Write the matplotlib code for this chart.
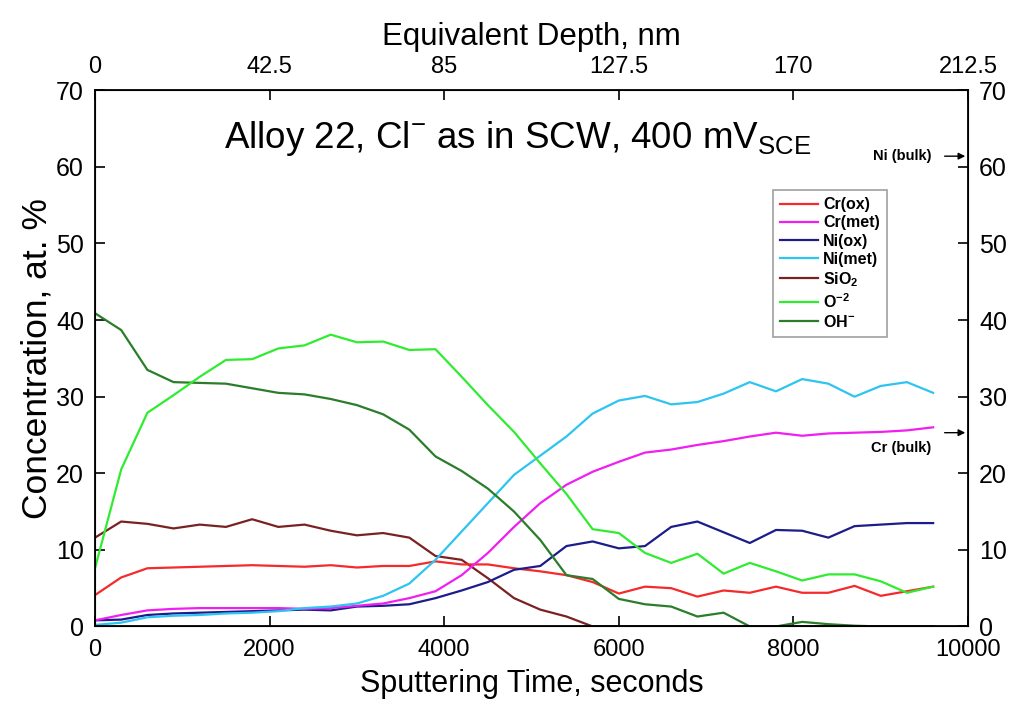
import matplotlib
matplotlib.use("Agg")
import matplotlib.pyplot as plt
from matplotlib.ticker import FixedLocator

plt.rcParams['font.family'] = ['Liberation Sans', 'DejaVu Sans']
plt.rcParams['mathtext.fontset'] = 'custom'
plt.rcParams['mathtext.rm'] = 'Liberation Sans'
plt.rcParams['mathtext.bf'] = 'Liberation Sans:bold'

times = [0, 300, 600, 900, 1200, 1500, 1800, 2100, 2400, 2700, 3000, 3300,
         3600, 3900, 4200, 4500, 4800, 5100, 5400, 5700, 6000, 6300, 6600,
         6900, 7200, 7500, 7800, 8100, 8400, 8700, 9000, 9300, 9600]

cr_ox = [4.1, 6.4, 7.6, 7.7, 7.8, 7.9, 8.0, 7.9, 7.8, 8.0, 7.7, 7.9, 7.9, 8.5,
         8.1, 8.1, 7.6, 7.2, 6.7, 5.8, 4.3, 5.2, 5.0, 3.9, 4.7, 4.4, 5.2, 4.4,
         4.4, 5.3, 4.0, 4.6, 5.2]
cr_met = [0.8, 1.5, 2.1, 2.3, 2.4, 2.4, 2.4, 2.4, 2.3, 2.4, 2.7, 3.0, 3.7, 4.6,
          6.7, 9.6, 13.0, 16.1, 18.5, 20.2, 21.5, 22.7, 23.1, 23.7, 24.2, 24.8,
          25.3, 24.9, 25.2, 25.3, 25.4, 25.6, 26.0]
ni_ox = [0.8, 0.9, 1.5, 1.7, 1.8, 1.9, 2.0, 2.1, 2.2, 2.1, 2.6, 2.7, 2.9, 3.7,
         4.7, 5.8, 7.4, 7.9, 10.5, 11.1, 10.2, 10.5, 13.0, 13.7, 12.3, 10.9,
         12.6, 12.5, 11.6, 13.1, 13.3, 13.5, 13.5]
ni_met = [0.2, 0.5, 1.2, 1.4, 1.5, 1.7, 1.8, 2.0, 2.4, 2.6, 3.0, 4.0, 5.6, 8.7,
          12.4, 16.1, 19.8, 22.3, 24.8, 27.8, 29.5, 30.1, 29.0, 29.3, 30.4,
          31.9, 30.7, 32.3, 31.7, 30.0, 31.4, 31.9, 30.5]
sio2 = [11.6, 13.7, 13.4, 12.8, 13.3, 13.0, 14.0, 13.0, 13.3, 12.5, 11.9, 12.2,
        11.6, 9.2, 8.7, 6.3, 3.7, 2.2, 1.3, 0, 0, 0, 0, 0, 0, 0, 0, 0, 0, 0, 0,
        0, 0]
o2 = [7.6, 20.5, 27.9, 30.2, 32.6, 34.8, 34.9, 36.3, 36.7, 38.1, 37.1, 37.2,
      36.1, 36.2, 32.6, 28.9, 25.4, 21.3, 17.3, 12.7, 12.2, 9.6, 8.3, 9.5, 6.9,
      8.3, 7.2, 6.0, 6.8, 6.8, 5.9, 4.4, 5.2]
oh = [40.9, 38.7, 33.5, 31.9, 31.8, 31.7, 31.1, 30.5, 30.3, 29.7, 28.9, 27.7,
      25.7, 22.2, 20.3, 18.0, 15.0, 11.3, 6.7, 6.2, 3.6, 2.9, 2.6, 1.3, 1.8, 0,
      0, 0.6, 0.3, 0.1, 0, 0, 0]

labels = ["Cr(ox)", "Cr(met)", "Ni(ox)", "Ni(met)", r"SiO$_\mathbf{2}$",
          r"O$^\mathbf{-2}$", r"OH$^\mathbf{-}$"]
colors = ["#f52a2a", "#f01ef0", "#1c1c8a", "#2ec4f0", "#7a2222", "#30ec30",
          "#2a7d2a"]
series = [cr_ox, cr_met, ni_ox, ni_met, sio2, o2, oh]

x_ticks = [0, 2000, 4000, 6000, 8000, 10000]
y_ticks = [0, 10, 20, 30, 40, 50, 60, 70]
depth_labels = ["0", "42.5", "85", "127.5", "170", "212.5"]
ni_bulk = 61.4
cr_bulk = 25.3

fig = plt.figure(figsize=(10.16, 7.23), dpi=100)
ax = fig.add_axes([0.0935, 0.1335, 0.8593, 0.7416])

order = [4, 0, 2, 1, 3, 6, 5]
handles = {}
for i in order:
    h, = ax.plot(times, series[i], color=colors[i], lw=1.6, label=labels[i])
    handles[i] = h

ax.set_xlim(0, 10000)
ax.set_ylim(0, 70)
ax.xaxis.set_major_locator(FixedLocator(x_ticks))
ax.yaxis.set_major_locator(FixedLocator(y_ticks))
ax.tick_params(axis='both', direction='in', length=7, width=1.2,
               labelsize=18, top=False, right=True, labelright=True, pad=8)
ax.tick_params(axis='x', labelsize=17, pad=9)
for s in ax.spines.values():
    s.set_linewidth(1.3)

ax.set_xlabel("Sputtering Time, seconds", fontsize=22, labelpad=6)
ax.set_ylabel("Concentration, at. %", fontsize=25.5, labelpad=2)

ax2 = ax.twiny()
ax2.set_xlim(0, 10000)
ax2.xaxis.set_major_locator(FixedLocator(x_ticks))
ax2.set_xticklabels(depth_labels)
ax2.tick_params(axis='x', direction='in', length=7, width=1.2, labelsize=17,
                pad=9)
ax2.set_xlabel("Equivalent Depth, nm", fontsize=22.5, labelpad=8)

ax.text(0.4845, 0.91, r"Alloy 22, Cl$^{-}$ as in SCW, 400 mV$_{\mathrm{SCE}}$",
        transform=ax.transAxes, ha='center', va='center', fontsize=26.5)

leg = ax.legend([handles[i] for i in range(7)], labels,
                loc='upper right', bbox_to_anchor=(0.907, 0.814),
                borderaxespad=0.0,
                frameon=True, fancybox=False, edgecolor='#888888',
                prop={'weight': 'bold', 'size': 11.5}, handlelength=2.4,
                handletextpad=0.3, labelspacing=0.2, borderpad=0.45)
leg.get_frame().set_linewidth(1.2)

ax.annotate("", xy=(10000, ni_bulk), xytext=(9700, ni_bulk),
            arrowprops=dict(arrowstyle='-|>', color='black', lw=1.0,
                            mutation_scale=10), annotation_clip=False)
ax.text(9580, ni_bulk, "Ni (bulk)", ha='right', va='center', fontsize=10.5,
        fontweight='bold')
ax.annotate("", xy=(10000, cr_bulk), xytext=(9700, cr_bulk),
            arrowprops=dict(arrowstyle='-|>', color='black', lw=1.0,
                            mutation_scale=10), annotation_clip=False)
ax.text(9580, cr_bulk - 2.0, "Cr (bulk)", ha='right', va='center',
        fontsize=10.5, fontweight='bold')

fig.savefig("out.png", dpi=100)
